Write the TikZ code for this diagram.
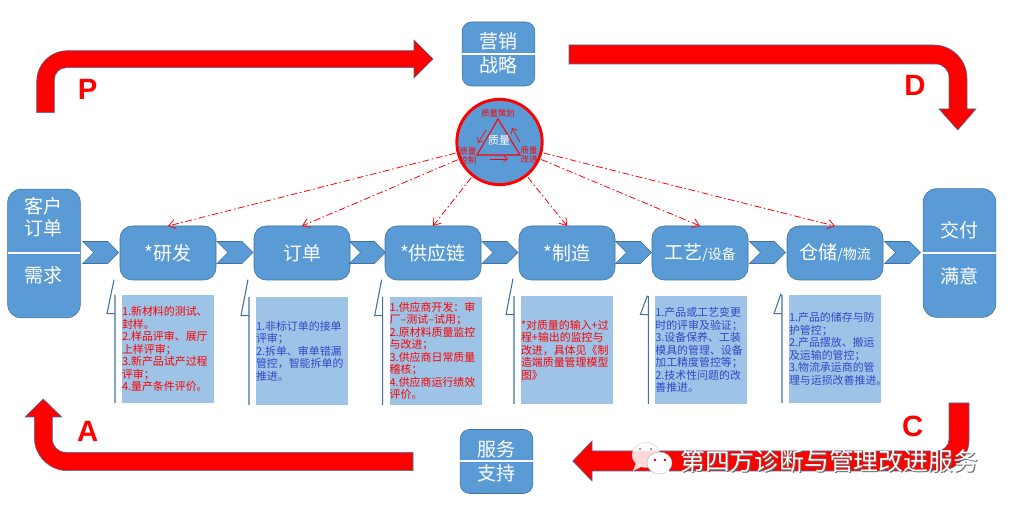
\documentclass[tikz,border=0pt]{standalone}
\usepackage{fontspec}
\setmainfont{Noto Sans CJK SC}
\newfontfamily\letterfont{Liberation Sans}
\usetikzlibrary{arrows.meta, positioning, shapes.symbols}
\definecolor{nodeblue}{HTML}{5B9BD5}
\definecolor{edgeblue}{HTML}{41719C}
\definecolor{paleblue}{HTML}{9DC3E6}
\definecolor{noteblue}{HTML}{3346C8}

\begin{document}
\begin{tikzpicture}[
    x=0.75pt, y=-0.75pt,
    every node/.style={inner sep=0pt, outer sep=0pt},
    stage/.style={draw=edgeblue, fill=nodeblue, rounded corners=9pt, minimum height=40.5pt, minimum width=72pt, align=center, text=white, font=\fontsize{14.25}{17}\selectfont},
    endbox/.style={draw=edgeblue, fill=nodeblue, rounded corners=10pt, minimum height=96.5pt, minimum width=54.5pt},
    midbox/.style={draw=edgeblue, fill=nodeblue, rounded corners=7pt, minimum height=48pt, minimum width=54.5pt},
    bigtext/.style={text=white, align=center, font=\fontsize{14.25}{18}\selectfont},
    note/.style={fill=paleblue, text width=69pt, minimum height=81pt, align=left, font=\fontsize{8.2}{9.35}\selectfont},
    rednote/.style={note, text=red},
    bluenote/.style={note, text=noteblue},
    chev/.style={signal, signal to=east, signal from=west, signal pointer angle=90, draw=edgeblue, fill=nodeblue, minimum width=27pt, minimum height=16.5pt},
    divide/.style={white, line width=1.5pt},
    bar/.style={edgeblue, line width=0.8pt},
    fatarr/.style={draw=edgeblue, line width=0.4pt, fill=red},
    dasharr/.style={red, dash pattern=on 5pt off 2pt on 1.2pt off 2pt, line width=0.6pt, -{Straight Barb[length=5pt, width=7pt]}, shorten <=2pt},
    cyclelabel/.style={text=red, font=\letterfont\bfseries\fontsize{22}{24}\selectfont},
    tiny/.style={text=red, align=center, font=\fontsize{6.2}{6.6}\selectfont}
  ]
  \useasboundingbox (0,0) rectangle (1011,505);

  % --- Red cycle arrows ---
  \path[fatarr] (36.7,112.7) [rounded corners=23pt] -- (36.7,50.7) [sharp corners] -- (414,50.7) -- (414,40) -- (433,59) -- (414,78) -- (414,67.7) [rounded corners=9pt] -- (54.3,67.7) [sharp corners] -- (54.3,112.7) -- cycle;
  \path[fatarr] (569,45) [rounded corners=25pt] -- (967,45) [sharp corners] -- (967,109) -- (976,109) -- (957.7,130) -- (939,109) -- (949,109) [rounded corners=10pt] -- (949,64) [sharp corners] -- (569,64) -- cycle;
  \path[fatarr] (969,403) [rounded corners=23pt] -- (969,471) [sharp corners] -- (592,471) -- (592,481) -- (572.7,461) -- (592,441) -- (592,451) [rounded corners=9pt] -- (949,451) [sharp corners] -- (949,403) -- cycle;
  \path[fatarr] (413,470.7) [rounded corners=25pt] -- (34.3,470.7) [sharp corners] -- (34.3,417) -- (25,417) -- (43.3,399) -- (61.7,417) -- (52.3,417) [rounded corners=10pt] -- (52.3,452.3) [sharp corners] -- (413,452.3) -- cycle;

  \node[cyclelabel] (labelp) at (87.7,89) {P};
  \node[cyclelabel] (labeld) at (915,85) {D};
  \node[cyclelabel] (labela) at (87.7,431.7) {A};
  \node[cyclelabel] (labelc) at (912.7,426.7) {C};

  % --- Row of stages ---
  \node[stage] (yanfa) at (168,253) {*研发};
  \node[stage, right=28.5pt of yanfa] (dingdan) {订单};
  \node[stage, right=26.25pt of dingdan] (gongying) {*供应链};
  \node[stage, right=28.5pt of gongying] (zhizao) {*制造};
  \node[stage, right=27.75pt of zhizao] (gongyi) {工艺{\fontsize{10.5}{12}\selectfont /设备}};
  \node[stage, right=29.25pt of gongyi] (cangchu) {仓储{\fontsize{10.5}{12}\selectfont /物流}};

  % --- Customer and delivery ---
  \node[endbox] (kehu) at (44,253.5) {};
  \node[bigtext] (kehutext) at (44,217.5) {客户\\[-1.5pt]订单};
  \node[bigtext] (xuqiu) at (44,275) {需求};
  \draw[divide] (kehu.west) -- (kehu.east);

  \node[endbox] (jiaofu) at (959.5,253) {};
  \node[bigtext] (jiaofutext) at (959.5,230) {交付};
  \node[bigtext] (manyi) at (959.5,276) {满意};
  \draw[divide] (jiaofu.west) -- (jiaofu.east);

  % --- Strategy and service ---
  \node[midbox] (yingxiao) at (498.5,54) {};
  \node[bigtext] (yingxiaotext) at (498.5,41) {营销};
  \node[bigtext] (zhanlue) at (498.5,65) {战略};
  \draw[divide] (yingxiao.west) -- (yingxiao.east);

  \node[midbox] (fuwu) at (496.5,461.5) {};
  \node[bigtext] (fuwutext) at (496.5,449) {服务};
  \node[bigtext] (zhichi) at (496.5,473) {支持};
  \draw[divide] (fuwu.west) -- (fuwu.east);

  % --- Chevrons ---
  \foreach \n/\x in {a/100.8, b/235, c/367.5, d/500, e/633.5, f/767.5, g/902.5}
    \node[chev] (chev\n) at (\x,252.5) {};

  % --- Quality circle ---
  \node[circle, draw=red, line width=2.2pt, fill=nodeblue, minimum size=64pt] (quality) at (499.5,142) {};
  \draw[red, line width=0.8pt] (498,119) -- (520,155) -- (477,155) -- cycle;
  \draw[red, line width=0.5pt, -{Straight Barb[length=3pt, width=5pt]}] (486,130) -- (478,143);
  \draw[red, line width=0.5pt, -{Straight Barb[length=3pt, width=5pt]}] (520,142) -- (512,128);
  \draw[red, line width=0.5pt, -{Straight Barb[length=3pt, width=5pt]}] (490,159) -- (508,159);
  \node[text=white, font=\fontsize{8.25}{9}\selectfont] (zhiliang) at (499,140) {质量};
  \node[tiny] (cehua) at (498,113) {质量策划};
  \node[tiny] (kongzhi) at (468,156) {质量\\控制};
  \node[tiny] (gaijin) at (529,155) {质量\\改进};

  \foreach \t in {yanfa, dingdan, gongying, zhizao, gongyi, cangchu}
    \draw[dasharr] (quality) -- (\t.north);

  % --- Notes ---
  \node[rednote, below=11.25pt of yanfa] (noteyanfa) {1.新材料的测试、\\封样。\\2.样品评审、展厅\\上样评审；\\3.新产品试产过程\\评审；\\4.量产条件评价。};
  \node[bluenote, below=12.75pt of dingdan] (notedingdan) {1.非标订单的接单\\评审；\\2.拆单、审单错漏\\管控，智能拆单的\\推进。};
  \node[rednote, below=12.75pt of gongying, xshift=2pt] (notegongying) {1.供应商开发：审\\厂--测试--试用；\\2.原材料质量监控\\与改进；\\3.供应商日常质量\\稽核；\\4.供应商运行绩效\\评价。};
  \node[rednote, below=12pt of zhizao] (notezhizao) {*对质量的输入+过\\程+输出的监控与\\改进，具体见《制\\造端质量管理模型\\图》};
  \node[bluenote, below=12pt of gongyi, xshift=1pt] (notegongyi) {1.产品或工艺变更\\时的评审及验证；\\3.设备保养、工装\\模具的管理、设备\\加工精度管控等；\\2.技术性问题的改\\善推进。};
  \node[bluenote, below=11.25pt of cangchu] (notecangchu) {1.产品的储存与防\\护管控；\\2.产品摆放、搬运\\及运输的管控；\\3.物流承运商的管\\理与运损改善推进。};

  % --- Note bars ---
  \foreach \b/\h in {noteyanfa/34, notedingdan/36, notegongying/36, notezhizao/36, notegongyi/19, notecangchu/20}
    \draw[bar] ([xshift=-5.25pt]\b.south west) -- ([xshift=-5.25pt]\b.north west)
      ([xshift=-5.25pt, yshift=-14pt]\b.north west) -- ++(-8,0) -- ++(7,-\h);

  % --- Watermark ---
  \fill[white, opacity=0.85] (646,455) ellipse (14 and -12.5);
  \fill[white, opacity=0.85] (636,463) -- (633,471) -- (643,466) -- cycle;
  \draw[gray!40, line width=0.3pt] (646,455) ellipse (14 and -12.5);
  \draw[gray!60, line width=0.3pt, fill=white] (659.5,463) ellipse (12.5 and -11);
  \fill[white] (664,471) -- (670,475) -- (668,468) -- cycle;
  \fill[gray] (640,449) circle (1.2) (651,449) circle (1.2);
  \fill[red!80!black] (655,460) circle (1.3) (665,460) circle (1.3);
  \node[text=gray!80!black, font=\fontsize{18.6}{20}\selectfont] (markshadow) at (830,462) {第四方诊断与管理改进服务};
  \node[text=white, font=\fontsize{18.6}{20}\selectfont] (mark) at (829,461) {第四方诊断与管理改进服务};
\end{tikzpicture}
\end{document}
